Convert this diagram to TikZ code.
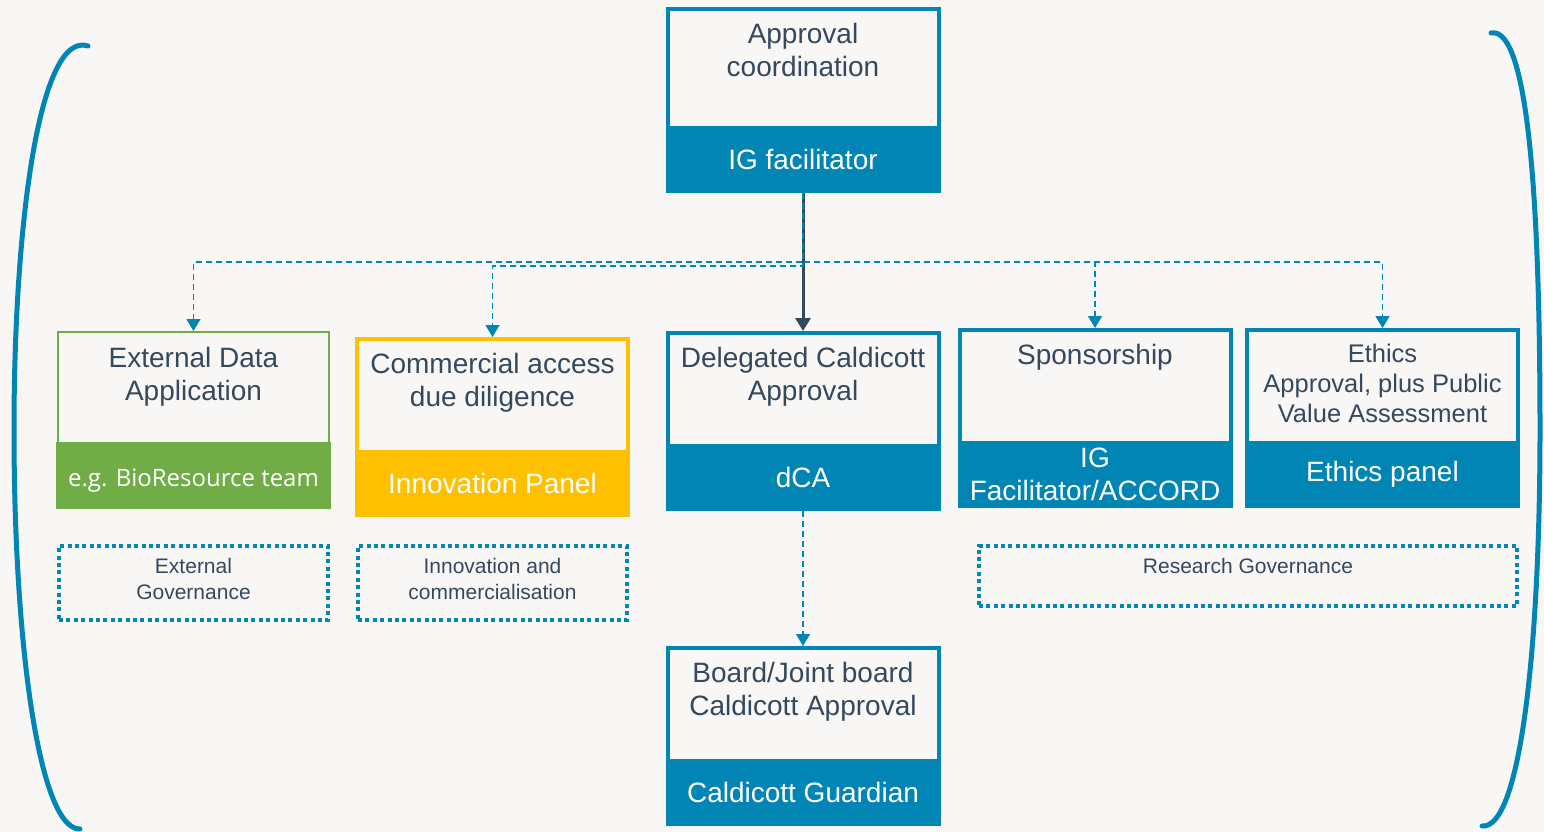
\documentclass[tikz,border=0pt]{standalone}
\usepackage{fontspec}
\setmainfont{Liberation Sans}
\newfontfamily\biofont{Open Sans}
\usetikzlibrary{positioning,arrows.meta}
\definecolor{igblue}{RGB}{0,133,180}
\definecolor{biogreen}{RGB}{112,173,71}
\definecolor{innoyellow}{RGB}{255,192,0}
\definecolor{inkdark}{RGB}{52,73,94}
\definecolor{paper}{RGB}{248,247,245}
\tikzset{
  apframe/.style={draw, line width=4pt, fill=paper, anchor=north, minimum width=271pt, minimum height=176pt, inner sep=0pt},
  apband/.style={anchor=south, minimum width=275pt, minimum height=67pt, text=white, align=center, font=\fontsize{28}{33}\selectfont, inner sep=0pt},
  aptext/.style={align=center, text=inkdark, font=\fontsize{28}{33}\selectfont, inner sep=0pt},
  govbox/.style={draw=igblue, line width=4pt, dash pattern=on 4pt off 3.4pt, anchor=north, minimum width=269pt, minimum height=74pt, inner sep=0pt},
  govtext/.style={align=center, text=inkdark, font=\fontsize{21}{26}\selectfont, inner sep=0pt},
  dashlink/.style={draw=igblue, line width=1.5pt, dash pattern=on 6pt off 4pt, -{Triangle[width=14pt,length=12pt]}},
  mainlink/.style={draw=inkdark, line width=3pt, -{Triangle[width=15pt,length=13pt]}},
  bracket/.style={draw=igblue, line width=5pt, line cap=round}
}
\newcommand{\apbox}[7]{
  \node[apframe, draw=#4, #7] (#1) at (#2,#3) {};
  \node[apband, fill=#4] (#1b) at (#1.south) {#6};
  \node[aptext, below=16pt of #1.north] (#1t) {#5};
}
\newcommand{\ethfont}{\fontsize{25.5}{30}\selectfont}

\begin{document}
\begin{tikzpicture}[x=1pt,y=-1pt]
  \fill[paper] (0,0) rectangle (1544,832);
  \useasboundingbox (0,0) rectangle (1544,832);
  \draw[bracket] (88,46) .. controls (40,30) and (14,220) .. (14,430) .. controls (14,650) and (40,830) .. (80,829);
  \draw[bracket] (1491,33) .. controls (1530,25) and (1540,220) .. (1540,430) .. controls (1540,650) and (1520,830) .. (1482,826);
  \apbox{top}{803}{7}{igblue}{Approval\\coordination}{IG facilitator}{minimum height=182pt}
  \apbox{ext}{193.5}{331}{biogreen}{External Data\\Application}{\raisebox{0pt}[22pt][0pt]{\biofont\fontsize{24}{28}\selectfont e.g. BioResource team}}{line width=2pt}
  \apbox{com}{492.5}{337}{innoyellow}{Commercial access\\due diligence}{Innovation Panel}{}
  \apbox{dca}{803}{331}{igblue}{Delegated Caldicott\\Approval}{dCA}{}
  \apbox{spon}{1095}{328}{igblue}{Sponsorship}{IG\\Facilitator/ACCORD}{}
  \apbox{eth}{1382.5}{328}{igblue}{\ethfont Ethics\\[-3pt]\ethfont Approval, plus Public\\[-3.5pt]\ethfont Value Assessment}{Ethics panel}{}
  \apbox{board}{803}{646}{igblue}{Board/Joint board\\Caldicott Approval}{Caldicott Guardian}{}
  \node[govbox] (extgov) at (193.5,544) {};
  \node[govbox] (comgov) at (492.5,544) {};
  \node[govbox, minimum width=538pt, minimum height=60pt] (resgov) at (1248,544) {};
  \node[govtext, below=14pt of extgov.north] {External\\Governance};
  \node[govtext, below=14pt of comgov.north] {Innovation and\\commercialisation};
  \node[govtext, below=14pt of resgov.north] {Research Governance};
  \draw[mainlink] (topb.south) -- (dca.north);
  \draw[dashlink] (topb.south) -- ++(0,69) -| (ext.north);
  \draw[dashlink] (topb.south) -- ++(0,73) -| (com.north);
  \draw[dashlink] (topb.south) -- ++(0,69) -| (spon.north);
  \draw[dashlink] (topb.south) -- ++(0,69) -| (eth.north);
  \draw[dashlink] (dcab.south) -- (board.north);
\end{tikzpicture}
\end{document}
